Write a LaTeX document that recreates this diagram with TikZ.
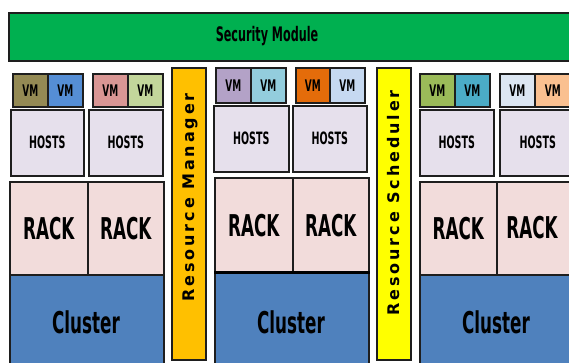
\documentclass[tikz,border=0pt]{standalone}
\usepackage{fontspec}
\usepackage{graphicx}
\setmainfont{DejaVu Sans}
\newfontfamily\rotfont[LetterSpace=18]{DejaVu Sans}
\definecolor{secgreen}{HTML}{00B050}
\definecolor{mgrc}{HTML}{FFC000}
\definecolor{schedc}{HTML}{FFFF00}
\definecolor{hostc}{HTML}{E6E0EC}
\definecolor{rackc}{HTML}{F2DCDB}
\definecolor{clusterc}{HTML}{4F81BD}
\definecolor{olive}{HTML}{948A54}
\definecolor{vblue}{HTML}{558ED5}
\definecolor{vpink}{HTML}{D99694}
\definecolor{vlgreen}{HTML}{C3D69B}
\definecolor{vlav}{HTML}{B3A2C7}
\definecolor{vlteal}{HTML}{93CDDD}
\definecolor{vorange}{HTML}{E46C0A}
\definecolor{vlblue}{HTML}{C6D9F1}
\definecolor{vgreen}{HTML}{9BBB59}
\definecolor{vteal}{HTML}{4BACC6}
\definecolor{vpale}{HTML}{DCE6F2}
\definecolor{vpeach}{HTML}{FAC090}
\definecolor{edge}{HTML}{1E1E1E}
\newcommand\sq[2]{\scalebox{0.56}[1]{\fontsize{#1}{#1}\selectfont\bfseries #2}}
\newcommand\cell[7]{\pgfmathsetmacro\cw{#4-#2}\pgfmathsetmacro\ch{#5-#3}%
  \node[box,fill=#6,minimum width=\cw pt,minimum height=\ch pt,anchor=north west] (#1) at (#2,#3) {#7};}
\tikzset{box/.style={draw=edge,line width=1.5pt,rectangle,inner sep=0pt}}
\begin{document}
\begin{tikzpicture}[x=1pt,y=-1pt]
\useasboundingbox (0,0) rectangle (569,362);
\clip (0,0) rectangle (569,362);
\fill[white] (0,0) rectangle (569,362);
% security module
\cell{sec}{8}{12}{575}{60}{secgreen}{}
\node (sect) at (267,36) {\sq{20}{Security Module}};
% group 1
\cell{vm1a}{12}{73}{47}{106}{olive}{\sq{16}{VM}}
\cell{vm1b}{47}{73}{82}{106}{vblue}{\sq{16}{VM}}
\cell{vm2a}{92}{73}{127}{106}{vpink}{\sq{16}{VM}}
\cell{vm2b}{127}{73}{162}{106}{vlgreen}{\sq{16}{VM}}
\cell{h1}{10}{109}{83}{175}{hostc}{\sq{17}{HOSTS}}
\cell{h2}{88}{109}{162}{175}{hostc}{\sq{17}{HOSTS}}
\cell{c1}{9}{274}{163}{372}{clusterc}{}
\node (c1t) at (86,322) {\sq{30}{Cluster}};
\cell{r1a}{9}{181}{87}{274}{rackc}{\sq{30}{RACK}}
\cell{r1b}{87}{181}{163}{274}{rackc}{\sq{30}{RACK}}
\cell{mgr}{171}{67}{205}{359}{mgrc}{}
\node[rotate=90,anchor=base east,inner sep=0pt] (mgrt) at (194,93) {\rotfont\bfseries\fontsize{16}{16}\selectfont Resource Manager};
% group 2
\cell{vm3a}{215}{67}{250}{102}{vlav}{\sq{16}{VM}}
\cell{vm3b}{250}{67}{285}{102}{vlteal}{\sq{16}{VM}}
\cell{vm4a}{295}{67}{329}{102}{vorange}{\sq{16}{VM}}
\cell{vm4b}{329}{67}{364}{102}{vlblue}{\sq{16}{VM}}
\cell{h3}{213}{105}{288}{171}{hostc}{\sq{17}{HOSTS}}
\cell{h4}{292}{105}{366}{171}{hostc}{\sq{17}{HOSTS}}
\cell{c2}{214}{272}{368}{372}{clusterc}{}
\node (c2t) at (291,322) {\sq{30}{Cluster}};
\cell{r2a}{214}{177}{292}{272}{rackc}{\sq{30}{RACK}}
\cell{r2b}{292}{177}{368}{272}{rackc}{\sq{30}{RACK}}
\draw[line width=3pt,black] (c2.north west) -- (c2.north east);
\cell{sched}{376}{67}{410}{359}{schedc}{}
\node[rotate=90,anchor=base east,inner sep=0pt] (schedt) at (399,90) {\rotfont\bfseries\fontsize{16}{16}\selectfont Resource Scheduler};
% group 3
\cell{vm5a}{419}{73}{454}{106}{vgreen}{\sq{16}{VM}}
\cell{vm5b}{454}{73}{489}{106}{vteal}{\sq{16}{VM}}
\cell{vm6a}{499}{73}{534}{106}{vpale}{\sq{16}{VM}}
\cell{vm6b}{534}{73}{570}{106}{vpeach}{\sq{16}{VM}}
\cell{h5}{419}{109}{493}{175}{hostc}{\sq{17}{HOSTS}}
\cell{h6}{499}{109}{575}{175}{hostc}{\sq{17}{HOSTS}}
\cell{c3}{419}{274}{575}{372}{clusterc}{}
\node (c3t) at (496,322) {\sq{30}{Cluster}};
\cell{r3a}{419}{181}{496}{274}{rackc}{\sq{30}{RACK}}
\node[box,fill=rackc,minimum width=79pt,minimum height=93pt,anchor=north west] (r3b) at (496,181) {};
\node (r3bt) at (532,228) {\sq{30}{RACK}};
\end{tikzpicture}
\end{document}
